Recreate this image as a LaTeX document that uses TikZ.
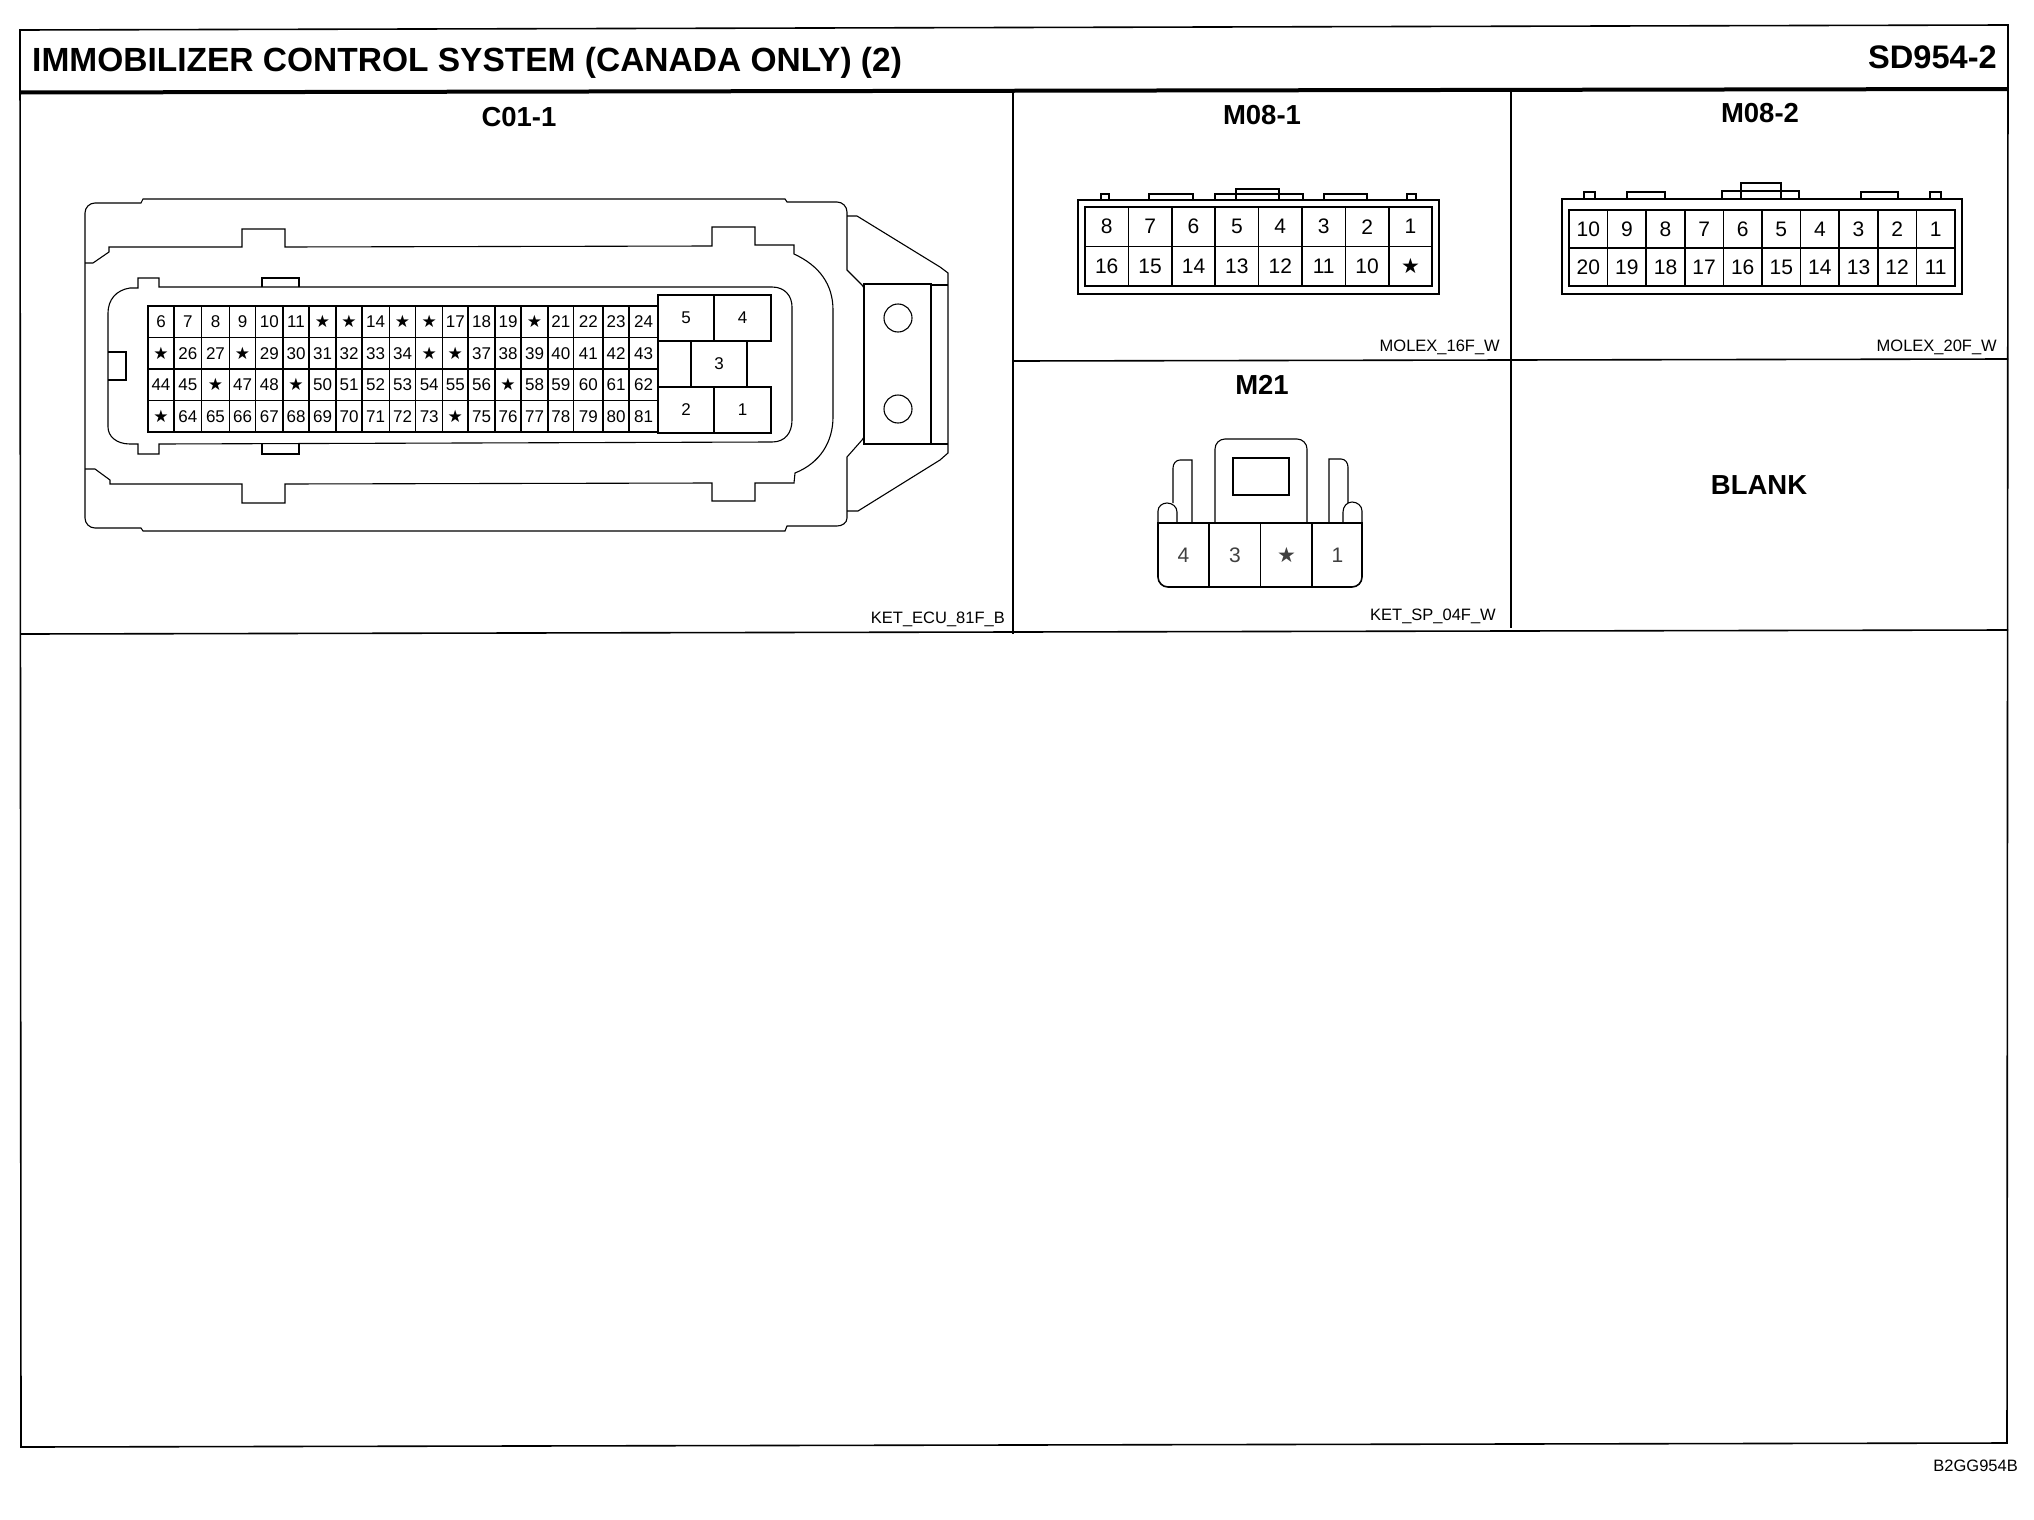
\documentclass[tikz,border=0pt]{standalone}
\usepackage{fontspec}
\setmainfont{Liberation Sans}
\newfontfamily\symfont{DejaVu Sans}
\usetikzlibrary{
  calc,
  positioning,
}
\tikzset{
  x = 1pt,
  y = -1pt,
  frameline/.style={line width=1.6pt},
  heavyline/.style={line width=4pt},
  outline/.style={line width=1.1pt},
  pin/.style={line width=1.6pt},
  n/.style={
    draw, line width=1.5pt, inner sep=0pt, outer sep=0pt,
    anchor=north west, font=\fontsize{17}{17}\selectfont,
  },
  big/.style={n},
  head/.style={font=\bfseries\fontsize{27.5}{27.5}\selectfont, inner sep=0pt},
  tag/.style={font=\fontsize{16.5}{16.5}\selectfont, inner sep=0pt, anchor=east},
}
\newcommand{\pinstar}{{\symfont ★}}
\begin{document}
\begin{tikzpicture}
  \useasboundingbox[fill=white] (0,0) rectangle (2034,1520);
  % sheet
  \draw[frameline] (20,30) -- (2008,25) -- (2007,1443) -- (21,1447) -- cycle;
  \draw[heavyline] (21,92.5) -- (2008,89);
  \draw[frameline] (21,634) -- (2008,630);
  \draw[frameline] (1013,90) -- (1013,634);
  \draw[frameline] (1511,90) -- (1511,628);
  \draw[frameline] (1013,361) -- (2008,359);
  \node[anchor=west, inner sep=0pt, font=\bfseries\fontsize{33.5}{34}\selectfont](Title) at (32,63){IMMOBILIZER CONTROL SYSTEM (CANADA ONLY) (2)};
  \node[anchor=east, inner sep=0pt, font=\bfseries\fontsize{32.6}{33}\selectfont](Sheet) at (1997,57){SD954-2};
  \node[head](LabC) at (519,117){C01-1};
  \node[head](LabA) at (1262,115){M08-1};
  \node[head](LabB) at (1760,113){M08-2};
  \node[head](LabM) at (1262,385){M21};
  \node[head](Blank) at (1759,485){BLANK};
  \node[tag](TagC) at (1005,619){KET\_ECU\_81F\_B};
  \node[tag](TagA) at (1500,347){MOLEX\_16F\_W};
  \node[tag](TagB) at (1997,347){MOLEX\_20F\_W};
  \node[tag](TagM) at (1496,616){KET\_SP\_04F\_W};
  \node[tag](Code) at (2018,1466){B2GG954B};
  %% C01-1 housing
  \draw[outline] (143,199) -- (785,199) -- (787,202) -- (837,202) to[out=0,in=90] (847,212)
    -- (847,270) -- (862,285) to[out=-45,in=90] (864,297) -- (864,430) to[out=-90,in=45] (862,440)
    -- (847,457) -- (847,518) to[out=-90,in=0] (837,526) -- (787,526) -- (785,531) -- (143,531)
    -- (141,528) -- (95,528) to[out=180,in=-90] (85,518) -- (85,213) to[out=90,in=180] (95,203)
    -- (141,203) -- cycle;
  \draw[outline] (85,263) -- (93,263) -- (109,252) -- (109,247) -- (242,247) -- (242,229)
    -- (285,229) -- (285,247) -- (712,246) -- (712,227) -- (755,227) -- (755,245) -- (794,245)
    -- (794,254) .. controls (820,266) and (833,285) .. (833,310) -- (833,417)
    .. controls (833,442) and (820,463) .. (795,473) -- (794,483) -- (755,483) -- (755,501)
    -- (712,501) -- (712,483) -- (285,484) -- (285,503) -- (242,503) -- (242,484) -- (110,484)
    -- (110,480) -- (95,469) -- (85,469);
  \draw[outline] (159,287) -- (159,278) -- (138,278) -- (138,288) -- (130,288)
    .. controls (116,290) and (108,300) .. (108,313) -- (108,427)
    .. controls (108,436) and (116,444) .. (130,444) -- (138,444) -- (138,454) -- (159,454)
    -- (159,444) -- (772,442) .. controls (785,442) and (792,433) .. (792,420) -- (792,307)
    .. controls (792,296) and (785,287) .. (772,287) -- cycle;
  \draw[outline] (262,287) -- (262,278) -- (299,278) -- (299,287);
  \draw[outline] (262,444) -- (262,454) -- (299,454) -- (299,444);
  \draw[outline] (108,352) -- (126,352) -- (126,380) -- (108,380);
  % bracket
  \draw[outline] (847,216) -- (857,216) -- (940,267) -- (948,273) -- (948,453) -- (940,460)
    -- (858,511) -- (847,511);
  \draw[pin] (864,284) rectangle (931,444);
  \draw[outline] (931,285) -- (948,285);
  \draw[outline] (931,444) -- (948,444);
  \node[draw, circle, line width=1.1pt, minimum size=28pt, inner sep=0pt](HoleA) at (898,318){};
  \node[draw, circle, line width=1.1pt, minimum size=28pt, inner sep=0pt](HoleB) at (898,409){};
  % pins 6..81
  \def\colx{{148,174,201.7,229.3,255.7,283,309,336,362,389.3,415.7,442.7,468,495,521,548,573.7,603,629,658}}
  \foreach \lst [count=\r] in {
    {6,7,8,9,10,11,\pinstar,\pinstar,14,\pinstar,\pinstar,17,18,19,\pinstar,21,22,23,24},
    {\pinstar,26,27,\pinstar,29,30,31,32,33,34,\pinstar,\pinstar,37,38,39,40,41,42,43},
    {44,45,\pinstar,47,48,\pinstar,50,51,52,53,54,55,56,\pinstar,58,59,60,61,62},
    {\pinstar,64,65,66,67,68,69,70,71,72,73,\pinstar,75,76,77,78,79,80,81}} {
    \foreach \t [count=\i] in \lst {
      \pgfmathsetmacro\xa{\colx[\i-1]}
      \pgfmathsetmacro\xb{\colx[\i]}
      \pgfmathsetmacro\cw{\xb-\xa}
      \pgfmathsetmacro\ya{306+31.5*(\r-1)}
      \node[n, minimum width=\cw pt, minimum height=31.5pt](c\r-\i) at (\xa,\ya){\t};
    }
  }
  \node[big, minimum width=56pt, minimum height=46pt](C5) at (658,295){5};
  \node[big, minimum width=57pt, minimum height=46pt](C4) at (714,295){4};
  \node[big, minimum width=56pt, minimum height=46pt, draw=none](C3) at (691,341){3};
  \draw[pin] (C3.north west) -- (C3.south west);
  \draw[outline] (C3.north east) -- (C3.south east);
  \node[big, minimum width=56pt, minimum height=46pt](C2) at (658,387){2};
  \node[big, minimum width=57pt, minimum height=46pt](C1) at (714,387){1};
  %% M08-1
  \foreach \xa/\xb/\ya in {1101/1109/194,1149/1193/194,1215/1303/194,1236/1279/189,1324/1367/194,1407/1416/194}
    \draw[outline] (\xa,200) -- (\xa,\ya) -- (\xb,\ya) -- (\xb,200);
  \draw[pin] (1078,200) rectangle (1439,294);
  \foreach \t [count=\i] in {8,7,6,5,4,3,2,1,16,15,14,13,12,11,10,\pinstar} {
    \pgfmathsetmacro\xa{1085+43.4*mod(\i-1,8)}
    \pgfmathsetmacro\ya{\i>8 ? 246.5 : 207}
    \node[n, minimum width=43.4pt, minimum height=39.5pt, font=\fontsize{21}{21}\selectfont](a\i) at (\xa,\ya){\t};
  }
  %% M08-2
  \foreach \xa/\xb/\ya in {1584/1595/192,1627/1665/192,1722/1799/191,1741/1781/183,1861/1898/192,1930/1941/192}
    \draw[outline] (\xa,199) -- (\xa,\ya) -- (\xb,\ya) -- (\xb,199);
  \draw[outline] (1562,199) rectangle (1962,294);
  \foreach \t [count=\i] in {10,9,8,7,6,5,4,3,2,1,20,19,18,17,16,15,14,13,12,11} {
    \pgfmathsetmacro\xa{1569+38.6*mod(\i-1,10)}
    \pgfmathsetmacro\ya{\i>10 ? 248 : 210}
    \node[n, minimum width=38.6pt, minimum height=38pt, font=\fontsize{21}{21}\selectfont](b\i) at (\xa,\ya){\t};
  }
  %% M21
  \draw[outline] (1215,523) -- (1215,449) to[out=90,in=180] (1225,439) -- (1297,439) to[out=0,in=90] (1307,449) -- (1307,523);
  \draw[pin] (1233,458) rectangle (1289,495);
  \draw[outline] (1192,523) -- (1192,460) -- (1180,460) to[out=180,in=90] (1173,468) -- (1173,503);
  \draw[outline] (1329,523) -- (1329,459) -- (1341,459) to[out=0,in=90] (1348,467) -- (1348,503);
  \draw[outline] (1158,523) -- (1158,511) to[out=90,in=180] (1167,503) to[out=0,in=90] (1177,512) -- (1177,523);
  \draw[outline] (1343,523) -- (1343,512) to[out=90,in=180] (1352,502) to[out=0,in=90] (1362,511) -- (1362,523);
  \draw[pin] (1158,523) -- (1158,577) to[out=-90,in=180] (1168,587) -- (1352,587) to[out=0,in=-90] (1362,577) -- (1362,523) -- cycle;
  \foreach \xa/\t/\nm in {1158/4/m4,1209.5/3/m3,1261/\pinstar/m2,1312/1/m1} {
    \node[n, draw=none, minimum width=51pt, minimum height=64pt, font=\fontsize{21}{21}\selectfont, text=black!75](\nm) at (\xa,523){\t};
  }
  \draw[outline] (m4.north east) -- (m4.south east);
  \draw[pin] (m3.north east) -- (m3.south east);
  \draw[outline] (m2.north east) -- (m2.south east);
\end{tikzpicture}
\end{document}
